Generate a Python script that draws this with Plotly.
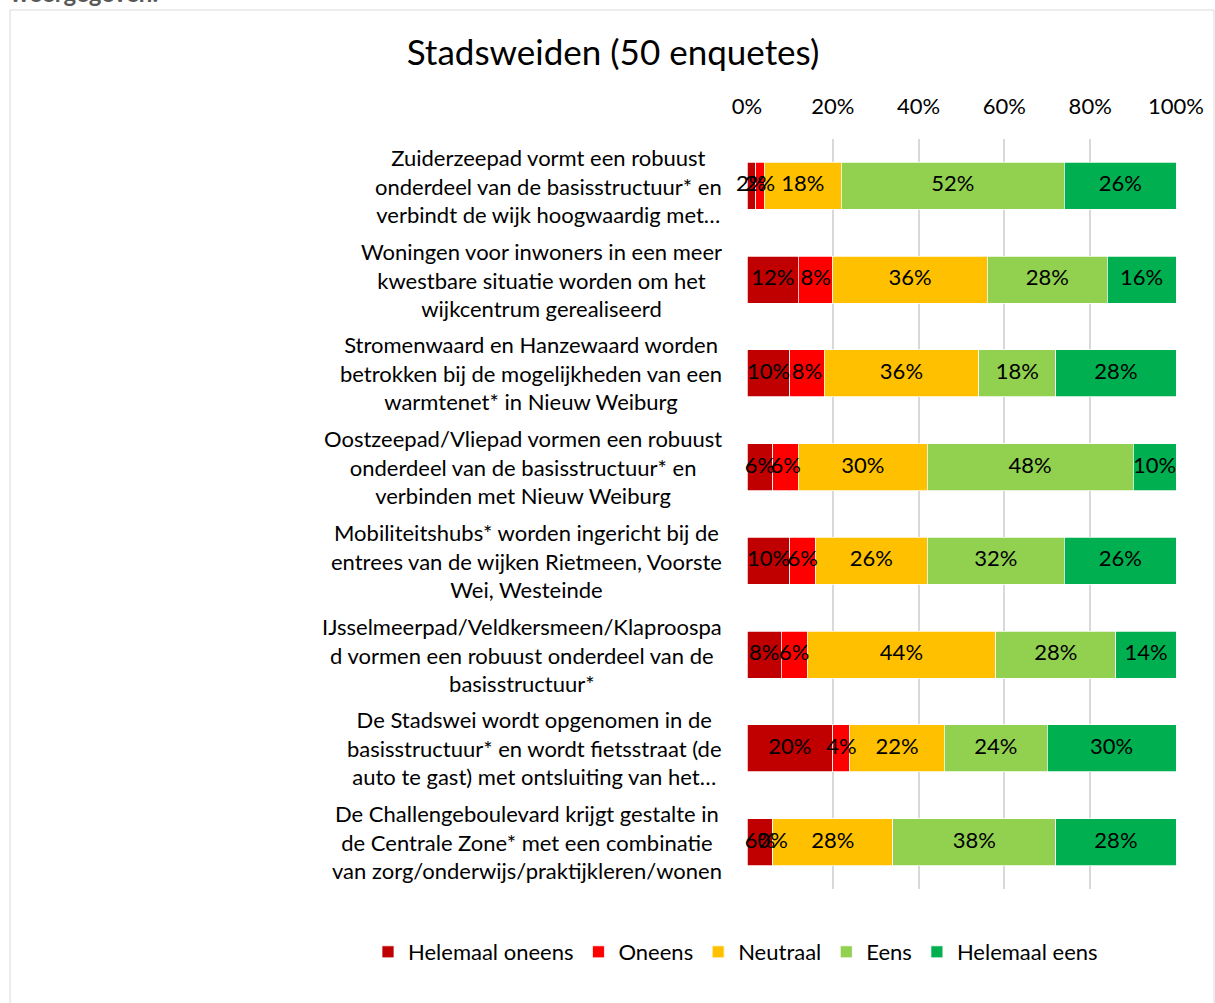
import plotly.graph_objects as go

categories = [
    "Zuiderzeepad vormt een robuust<br>onderdeel van de basisstructuur* en<br>verbindt de wijk hoogwaardig met…",
    "Woningen voor inwoners in een meer<br>kwestbare situatie worden om het<br>wijkcentrum gerealiseerd",
    "Stromenwaard en Hanzewaard worden<br>betrokken bij de mogelijkheden van een<br>warmtenet* in Nieuw Weiburg",
    "Oostzeepad/Vliepad vormen een robuust<br>onderdeel van de basisstructuur* en<br>verbinden met Nieuw Weiburg",
    "Mobiliteitshubs* worden ingericht bij de<br>entrees van de wijken Rietmeen, Voorste<br>Wei, Westeinde",
    "IJsselmeerpad/Veldkersmeen/Klaproospa<br>d vormen een robuust onderdeel van de<br>basisstructuur*",
    "De Stadswei wordt opgenomen in de<br>basisstructuur* en wordt fietsstraat (de<br>auto te gast) met ontsluiting van het…",
    "De Challengeboulevard krijgt gestalte in<br>de Centrale Zone* met een combinatie<br>van zorg/onderwijs/praktijkleren/wonen",
]

series_names = ["Helemaal oneens", "Oneens", "Neutraal", "Eens", "Helemaal eens"]
helemaal_oneens = [2, 12, 10, 6, 10, 8, 20, 6]
oneens = [2, 8, 8, 6, 6, 6, 4, 0]
neutraal = [18, 36, 36, 30, 26, 44, 22, 28]
eens = [52, 28, 18, 48, 32, 28, 24, 38]
helemaal_eens = [26, 16, 28, 10, 26, 14, 30, 28]
series_values = [helemaal_oneens, oneens, neutraal, eens, helemaal_eens]
colors = ["#C00000", "#FF0000", "#FFC000", "#92D050", "#00B050"]

tick_vals = [0, 20, 40, 60, 80, 100]
tick_text = ["0%", "20%", "40%", "60%", "80%", "100%"]

FONT = "Lato"
FS = 22
W, H = 1215, 1003
L, R, T, B = 747, 1176, 139, 889

fig = go.Figure()
for name, vals, col in zip(series_names, series_values, colors):
    fig.add_trace(go.Bar(
        y=categories, x=vals, name=name, orientation="h",
        marker=dict(color=col, line=dict(color="white", width=0.75)),
        hoverinfo="x+name",
    ))

# data labels centered on each segment
cum = [0] * len(categories)
for vals in series_values:
    mids = [c + v / 2 for c, v in zip(cum, vals)]
    fig.add_trace(go.Scatter(
        x=mids, y=categories, mode="text",
        text=[f"{v}%" for v in vals],
        textfont=dict(family=FONT, size=FS, color="black"),
        showlegend=False, hoverinfo="skip", cliponaxis=False,
    ))
    cum = [c + v for c, v in zip(cum, vals)]

def px_x(p):
    return (p - L) / (R - L)

def px_y(p):
    return (B - p) / (B - T)

annotations = [dict(text=c, xref="paper", yref="y", x=px_x(724), y=c,
                    xanchor="right", yanchor="middle", align="center", showarrow=False,
                    font=dict(family=FONT, size=FS, color="#000000"))
               for c in categories]
annotations.append(dict(text="<b>weergegeven.</b>", xref="paper", yref="paper",
                        x=px_x(8), xanchor="left", y=px_y(9), yanchor="bottom",
                        showarrow=False, font=dict(family=FONT, size=24, color="#595959")))

fig.update_layout(
    width=W, height=H,
    margin=dict(l=L, r=W - R, t=T, b=H - B, pad=0),
    barmode="stack", bargap=0.5,
    plot_bgcolor="white", paper_bgcolor="white",
    font=dict(family=FONT, size=FS, color="#000000"),
    title=dict(text="Stadsweiden (50 enquetes)", x=613 / W, xanchor="center",
               y=1 - 53 / H, yanchor="middle",
               font=dict(family=FONT, size=35, color="#000000")),
    xaxis=dict(side="top", range=[0, 100], tickvals=tick_vals, ticktext=tick_text,
               showgrid=True, gridcolor="#D9D9D9", gridwidth=2, zeroline=False,
               showline=False, ticks="", tickfont=dict(size=FS), ticklabelstandoff=20),
    yaxis=dict(autorange="reversed", showgrid=False, ticks="", showline=False,
               showticklabels=False),
    legend=dict(orientation="h", xref="paper", x=px_x(368), xanchor="left",
                yref="paper", y=px_y(952), yanchor="middle",
                font=dict(size=FS), traceorder="normal", itemwidth=30,
                bgcolor="rgba(0,0,0,0)"),
    shapes=[dict(type="rect", xref="paper", yref="paper",
                 x0=px_x(10), x1=px_x(1214), y0=px_y(1010), y1=px_y(10),
                 line=dict(color="#D9D9D9", width=1), fillcolor="rgba(0,0,0,0)", layer="below")],
    annotations=annotations,
)

fig.write_html("out.html", config={"displayModeBar": False},
               post_script="document.body.style.margin='0';document.body.style.overflow='hidden';")
